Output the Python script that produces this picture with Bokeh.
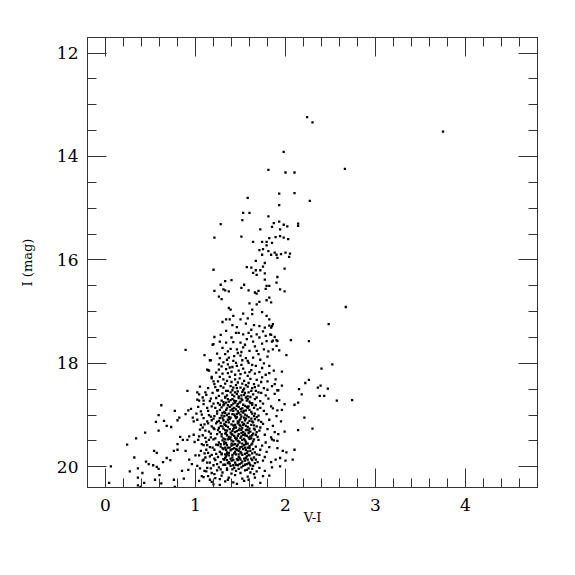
from bokeh.plotting import figure
from bokeh.models import Range1d, LinearAxis, SingleIntervalTicker, CustomJSTickFormatter
from bokeh.embed import file_html
from bokeh.resources import INLINE

# ---- data: (V-I, I) pairs ----
bright = [
    (2.24, 13.24), (2.30, 13.34), (3.75, 13.52), (1.98, 13.91), (2.66, 14.24), (2.00, 14.31),
    (2.10, 14.31), (1.81, 14.26), (1.93, 14.72), (2.10, 14.71), (2.27, 14.86), (1.93, 14.94),
    (1.58, 14.80), (1.53, 15.09), (1.60, 15.09), (1.81, 15.16), (1.28, 15.31), (1.52, 15.23),
    (1.93, 15.26), (1.87, 15.29), (2.14, 15.30), (2.14, 15.34), (1.98, 15.32), (2.02, 15.35),
    (1.85, 15.36), (1.94, 15.41), (1.72, 15.41), (1.21, 15.57), (1.51, 15.55), (1.64, 15.65),
    (1.74, 15.65), (1.79, 15.65), (1.82, 15.58), (1.89, 15.56), (1.94, 15.54), (1.98, 15.57),
    (2.03, 15.60), (1.85, 15.67), (1.79, 15.72), (1.71, 15.81), (1.75, 15.79), (1.81, 15.83),
    (1.88, 15.86), (1.74, 15.90), (1.84, 15.90), (1.90, 15.90), (1.95, 15.89), (2.00, 15.86),
    (2.05, 15.88), (2.04, 15.94), (1.91, 15.96), (1.67, 16.02), (1.77, 16.06), (1.75, 16.13),
    (1.20, 16.19), (1.57, 16.14), (1.62, 16.15), (1.67, 16.20), (1.72, 16.20), (1.64, 16.25),
    (1.68, 16.29), (1.77, 16.26), (1.91, 16.33), (1.99, 16.17), (1.77, 16.38), (1.90, 16.44),
    (1.33, 16.41), (1.40, 16.39), (1.28, 16.48), (1.54, 16.48), (1.51, 16.54), (1.79, 16.50),
    (1.82, 16.50), (1.78, 16.56), (1.21, 16.60), (1.31, 16.57), (1.33, 16.59), (1.37, 16.61),
    (1.59, 16.59), (1.66, 16.63), (1.70, 16.60), (1.68, 16.65), (1.94, 16.57), (1.99, 16.61),
    (1.26, 16.71), (1.29, 16.76), (1.82, 16.73), (1.79, 16.78), (1.71, 16.81), (1.84, 16.82),
    (1.60, 16.84), (1.68, 16.86), (1.37, 16.93), (1.39, 16.96), (1.63, 16.96),
]

middle = [
    (1.42, 17.08), (1.34, 17.15), (1.38, 17.15), (1.50, 17.15), (1.53, 17.04), (1.58, 17.13),
    (1.63, 17.05), (1.74, 17.01), (1.79, 17.08), (1.82, 17.15), (1.41, 17.26), (1.56, 17.23),
    (1.65, 17.26), (1.71, 17.28), (1.77, 17.31), (1.82, 17.27), (1.86, 17.24), (1.34, 17.37),
    (1.45, 17.41), (1.48, 17.41), (1.53, 17.44), (1.59, 17.41), (1.68, 17.44), (1.71, 17.50),
    (1.78, 17.47), (1.83, 17.44), (1.88, 17.49), (1.21, 17.49), (1.20, 17.63), (1.34, 17.60),
    (1.42, 17.59), (1.50, 17.60), (1.55, 17.64), (1.64, 17.58), (1.74, 17.62), (1.79, 17.57),
    (1.85, 17.58), (1.91, 17.57), (1.39, 17.72), (1.46, 17.73), (1.53, 17.69), (1.60, 17.76),
    (1.68, 17.76), (1.76, 17.73), (1.81, 17.77), (1.86, 17.73), (1.10, 17.84), (1.24, 17.81),
    (1.33, 17.82), (1.37, 17.89), (1.43, 17.86), (1.50, 17.85), (1.56, 17.90), (1.64, 17.89),
    (1.72, 17.93), (1.80, 17.87), (1.17, 17.94), (1.31, 17.98), (1.36, 18.02), (1.45, 17.99),
    (1.51, 18.03), (1.59, 17.99), (1.67, 18.05), (1.76, 18.00), (1.82, 18.05), (1.13, 18.12),
    (1.15, 18.14), (1.26, 18.12), (1.34, 18.11), (1.40, 18.16), (1.48, 18.14), (1.55, 18.18),
    (1.62, 18.13), (1.71, 18.17), (1.78, 18.22), (1.87, 18.14), (1.18, 18.29), (1.27, 18.26),
    (1.31, 18.31), (1.38, 18.26), (1.44, 18.31), (1.49, 18.29), (1.54, 18.34), (1.61, 18.30),
    (1.68, 18.32), (1.74, 18.27), (1.80, 18.35), (1.21, 18.40), (1.28, 18.44), (1.33, 18.39),
    (1.39, 18.44), (1.45, 18.42), (1.50, 18.47), (1.56, 18.42), (1.63, 18.48), (1.70, 18.43),
    (1.76, 18.48), (1.85, 18.44), (1.24, 18.52), (1.36, 18.53), (1.41, 18.52), (1.47, 18.54),
    (1.53, 18.52), (1.59, 18.56), (1.67, 18.53), (1.73, 18.57), (1.91, 18.52),
]

middle_extra = [
    (1.30, 17.20), (1.46, 17.30), (1.62, 17.35), (1.75, 17.38), (1.28, 17.45), (1.40, 17.50),
    (1.57, 17.53), (1.66, 17.67), (1.30, 17.70), (1.47, 17.80), (1.70, 17.82), (1.58, 17.95),
    (1.26, 18.02), (1.41, 18.07), (1.63, 18.03), (1.74, 18.09), (1.30, 18.20), (1.44, 18.22),
    (1.58, 18.24), (1.66, 18.20), (1.35, 18.34), (1.47, 18.37), (1.59, 18.38), (1.73, 18.36),
    (1.42, 18.47), (1.54, 18.49), (1.66, 18.46), (1.80, 18.51), (1.88, 18.40), (1.82, 18.19),
    (1.27, 17.90), (1.35, 17.93), (1.42, 17.95), (1.52, 17.94), (1.29, 18.06), (1.38, 18.08),
    (1.46, 18.05), (1.53, 18.10), (1.23, 18.18), (1.36, 18.19), (1.50, 18.21), (1.60, 18.17),
    (1.25, 18.35), (1.40, 18.36), (1.52, 18.39), (1.65, 18.40), (1.31, 18.47), (1.46, 18.48),
    (1.58, 18.45), (1.36, 17.77), (1.51, 17.78), (1.27, 17.58), (1.62, 17.48),
]

red_side = [
    (2.67, 16.91), (2.48, 17.24), (1.85, 17.28), (1.84, 17.31), (1.84, 17.45), (1.86, 17.56),
    (1.90, 17.55), (2.06, 17.55), (2.26, 17.57), (1.90, 17.66), (1.93, 17.75), (2.01, 17.84),
    (2.52, 18.02), (2.40, 18.10), (1.96, 18.16), (1.89, 18.31), (2.26, 18.32), (2.22, 18.38),
    (1.96, 18.43), (2.39, 18.43), (2.36, 18.47), (2.15, 18.50), (2.47, 18.49), (1.92, 18.52),
    (2.18, 18.60), (2.38, 18.63), (2.43, 18.63), (2.57, 18.72), (2.74, 18.71), (2.14, 18.76),
    (2.10, 18.80), (1.96, 18.90), (1.91, 18.91), (2.21, 19.05), (2.30, 19.26), (2.14, 19.29),
    (1.99, 19.32), (1.92, 19.37), (1.91, 19.50), (1.85, 19.47), (1.91, 19.64), (1.97, 19.69),
    (2.01, 19.72), (2.10, 19.67), (1.94, 19.83), (2.00, 19.88), (2.08, 19.86), (1.84, 19.91),
    (1.89, 19.86), (1.85, 20.01), (1.94, 19.99), (1.77, 20.08), (1.82, 20.17), (1.65, 20.14),
    (1.59, 20.25), (1.42, 20.30), (1.36, 20.25),
]

blue_side = [
    (0.91, 18.53), (0.62, 18.81), (0.59, 19.00), (0.56, 19.13), (0.65, 19.11), (0.68, 19.21),
    (0.73, 19.23), (0.59, 19.30), (0.77, 18.92), (0.82, 19.05), (0.80, 19.10), (0.44, 19.34),
    (0.34, 19.45), (0.24, 19.57), (0.83, 19.42), (0.86, 19.48), (0.80, 19.56), (0.76, 19.69),
    (0.80, 19.67), (0.54, 19.69), (0.57, 19.73), (0.32, 19.82), (0.68, 19.83), (0.72, 19.87),
    (0.64, 19.91), (0.45, 19.90), (0.48, 19.95), (0.53, 19.97), (0.57, 20.00), (0.59, 20.04),
    (0.36, 20.03), (0.41, 20.12), (0.27, 20.09), (0.06, 19.99), (0.04, 20.31), (0.36, 20.36),
    (0.43, 20.31), (0.55, 20.25), (0.60, 20.16), (0.62, 20.32), (0.76, 20.25), (0.85, 20.08),
    (0.87, 20.23), (0.92, 20.06), (0.93, 19.86), (0.96, 19.95), (1.04, 20.27), (0.89, 19.69),
    (0.91, 19.48), (0.93, 19.41), (0.98, 19.38), (0.99, 19.52), (0.89, 18.98), (0.92, 18.91),
    (0.97, 19.05), (0.98, 19.12), (1.01, 18.97), (1.03, 18.84), (1.04, 18.72), (1.11, 18.56),
    (1.09, 18.72), (1.04, 18.60), (1.06, 19.19), (1.11, 19.30), (1.04, 19.41), (1.07, 19.56),
    (1.12, 19.67), (1.04, 19.78), (1.09, 19.86), (1.05, 20.03), (1.12, 20.09), (1.07, 20.18),
    (1.16, 20.25), (1.20, 20.34), (0.77, 20.39), (0.39, 20.39), (0.36, 20.21), (0.89, 17.74),
    (1.02, 18.56), (1.16, 17.94), (1.14, 18.13), (1.18, 18.26), (1.20, 18.35), (1.19, 17.64),
]

wing_left = [
    (1.05, 18.45), (1.14, 18.48), (1.22, 18.46), (1.08, 18.66), (1.20, 18.78), (1.13, 18.86),
    (1.24, 18.93), (1.06, 18.93), (1.15, 19.00), (1.21, 19.02), (1.09, 19.06), (1.18, 19.10),
    (1.24, 19.13), (1.14, 19.16), (1.20, 19.25), (1.08, 19.24), (1.25, 19.29), (1.17, 19.36),
    (1.11, 19.44), (1.22, 19.45), (1.15, 19.48), (1.25, 19.58), (1.13, 19.58), (1.19, 19.63),
    (1.10, 19.74), (1.23, 19.75), (1.16, 19.80), (1.21, 19.84), (1.13, 19.92), (1.24, 19.95),
    (1.17, 20.03), (1.28, 20.05), (1.21, 20.14), (1.27, 20.24), (1.09, 20.20), (1.25, 18.52),
    (1.17, 18.68), (1.27, 18.80),
]

clump = [
    (1.12, 18.61), (1.19, 18.57), (1.26, 18.63), (1.30, 18.58), (1.35, 18.62), (1.39, 18.56),
    (1.43, 18.64), (1.46, 18.59), (1.51, 18.62), (1.55, 18.57), (1.58, 18.64), (1.64, 18.60),
    (1.70, 18.56), (1.78, 18.62), (1.88, 18.59),
    (1.02, 18.70), (1.16, 18.73), (1.23, 18.67), (1.29, 18.72), (1.33, 18.66), (1.37, 18.74),
    (1.41, 18.69), (1.45, 18.73), (1.48, 18.67), (1.52, 18.71), (1.56, 18.66), (1.60, 18.74),
    (1.66, 18.69), (1.72, 18.73), (1.81, 18.68), (1.93, 18.71),
    (1.09, 18.79), (1.18, 18.83), (1.25, 18.77), (1.31, 18.81), (1.34, 18.76), (1.38, 18.84),
    (1.42, 18.78), (1.46, 18.82), (1.49, 18.76), (1.53, 18.80), (1.57, 18.84), (1.61, 18.77),
    (1.67, 18.81), (1.75, 18.78), (1.84, 18.83), (1.99, 18.79),
    (0.95, 18.88), (1.14, 18.92), (1.22, 18.86), (1.27, 18.90), (1.32, 18.94), (1.35, 18.87),
    (1.39, 18.91), (1.43, 18.86), (1.47, 18.93), (1.50, 18.88), (1.54, 18.92), (1.58, 18.86),
    (1.62, 18.94), (1.69, 18.89), (1.76, 18.92), (1.86, 18.87),
    (1.07, 18.99), (1.17, 19.03), (1.24, 18.97), (1.29, 19.01), (1.33, 18.96), (1.37, 19.04),
    (1.41, 18.98), (1.44, 19.02), (1.48, 18.96), (1.51, 19.03), (1.55, 18.99), (1.59, 19.04),
    (1.63, 18.97), (1.70, 19.01), (1.79, 18.98), (1.90, 19.02),
    (1.02, 19.09), (1.13, 19.12), (1.20, 19.07), (1.26, 19.11), (1.30, 19.06), (1.34, 19.13),
    (1.38, 19.08), (1.42, 19.12), (1.45, 19.06), (1.49, 19.10), (1.52, 19.14), (1.56, 19.07),
    (1.60, 19.11), (1.66, 19.08), (1.73, 19.13), (1.82, 19.09), (1.95, 19.12),
    (1.10, 19.18), (1.18, 19.22), (1.23, 19.16), (1.28, 19.21), (1.32, 19.17), (1.36, 19.23),
    (1.40, 19.18), (1.43, 19.24), (1.47, 19.16), (1.50, 19.21), (1.54, 19.17), (1.58, 19.23),
    (1.62, 19.19), (1.68, 19.22), (1.75, 19.17), (1.86, 19.21),
    (1.05, 19.28), (1.15, 19.32), (1.21, 19.27), (1.27, 19.33), (1.31, 19.26), (1.35, 19.30),
    (1.39, 19.34), (1.42, 19.27), (1.46, 19.31), (1.49, 19.26), (1.53, 19.33), (1.57, 19.28),
    (1.61, 19.32), (1.65, 19.26), (1.71, 19.30), (1.80, 19.27), (1.88, 19.33),
    (1.08, 19.39), (1.17, 19.43), (1.24, 19.37), (1.29, 19.41), (1.33, 19.36), (1.37, 19.42),
    (1.41, 19.38), (1.44, 19.44), (1.48, 19.37), (1.51, 19.41), (1.55, 19.36), (1.59, 19.43),
    (1.63, 19.39), (1.69, 19.42), (1.77, 19.38), (1.84, 19.43),
    (1.03, 19.48), (1.12, 19.52), (1.20, 19.47), (1.26, 19.53), (1.30, 19.49), (1.34, 19.54),
    (1.38, 19.46), (1.42, 19.51), (1.45, 19.47), (1.49, 19.53), (1.52, 19.48), (1.56, 19.52),
    (1.60, 19.46), (1.64, 19.51), (1.70, 19.48), (1.78, 19.53), (1.87, 19.49),
    (1.09, 19.58), (1.16, 19.62), (1.23, 19.57), (1.28, 19.61), (1.32, 19.56), (1.36, 19.63),
    (1.40, 19.59), (1.43, 19.64), (1.47, 19.57), (1.50, 19.62), (1.54, 19.58), (1.58, 19.63),
    (1.62, 19.57), (1.67, 19.61), (1.74, 19.59), (1.82, 19.62),
    (1.06, 19.69), (1.14, 19.73), (1.21, 19.67), (1.27, 19.71), (1.31, 19.66), (1.35, 19.72),
    (1.39, 19.68), (1.43, 19.74), (1.46, 19.67), (1.50, 19.71), (1.53, 19.66), (1.57, 19.73),
    (1.61, 19.69), (1.66, 19.72), (1.72, 19.67), (1.79, 19.71),
    (1.00, 19.78), (1.11, 19.82), (1.18, 19.77), (1.25, 19.81), (1.29, 19.76), (1.33, 19.83),
    (1.37, 19.78), (1.41, 19.82), (1.45, 19.76), (1.48, 19.81), (1.52, 19.77), (1.56, 19.83),
    (1.60, 19.78), (1.65, 19.82), (1.71, 19.77), (1.77, 19.81),
    (1.08, 19.88), (1.16, 19.92), (1.22, 19.87), (1.28, 19.91), (1.32, 19.86), (1.36, 19.93),
    (1.40, 19.88), (1.44, 19.92), (1.47, 19.87), (1.51, 19.93), (1.55, 19.88), (1.59, 19.92),
    (1.63, 19.87), (1.69, 19.91), (1.75, 19.88),
    (1.02, 19.98), (1.13, 20.02), (1.20, 19.97), (1.26, 20.01), (1.31, 19.96), (1.35, 20.03),
    (1.39, 19.98), (1.43, 20.02), (1.47, 19.97), (1.51, 20.01), (1.55, 19.96), (1.59, 20.03),
    (1.64, 19.98), (1.71, 20.02),
    (1.10, 20.08), (1.18, 20.12), (1.24, 20.07), (1.30, 20.11), (1.35, 20.06), (1.40, 20.13),
    (1.45, 20.08), (1.50, 20.12), (1.55, 20.07), (1.61, 20.11), (1.68, 20.09),
    (1.14, 20.18), (1.22, 20.22), (1.29, 20.17), (1.37, 20.21), (1.44, 20.16), (1.52, 20.23),
    (1.58, 20.19), (1.66, 20.21), (1.75, 20.18),
    (1.18, 20.29), (1.27, 20.35), (1.33, 20.28), (1.46, 20.33), (1.54, 20.27), (1.63, 20.36),
    (1.72, 20.31),
]

core = [
    (1.33, 18.65), (1.41, 18.61), (1.48, 18.64), (1.54, 18.61), (1.61, 18.65),
    (1.31, 18.75), (1.39, 18.71), (1.44, 18.76), (1.50, 18.74), (1.57, 18.72), (1.63, 18.77),
    (1.29, 18.85), (1.36, 18.81), (1.41, 18.88), (1.48, 18.84), (1.52, 18.87), (1.59, 18.83),
    (1.65, 18.86), (1.30, 18.96), (1.37, 18.97), (1.42, 18.92), (1.46, 18.98), (1.53, 18.95),
    (1.56, 18.91), (1.66, 18.97), (1.27, 19.06), (1.32, 19.02), (1.39, 19.05), (1.46, 19.04),
    (1.50, 19.07), (1.54, 19.05), (1.62, 19.07), (1.68, 19.04), (1.28, 19.15), (1.33, 19.19),
    (1.37, 19.14), (1.44, 19.19), (1.48, 19.14), (1.53, 19.19), (1.58, 19.15), (1.64, 19.14),
    (1.26, 19.25), (1.30, 19.22), (1.38, 19.27), (1.45, 19.24), (1.48, 19.29), (1.52, 19.25),
    (1.56, 19.29), (1.60, 19.26), (1.66, 19.28), (1.29, 19.37), (1.34, 19.34), (1.40, 19.37),
    (1.44, 19.33), (1.47, 19.40), (1.51, 19.35), (1.55, 19.39), (1.59, 19.35), (1.64, 19.36),
    (1.31, 19.45), (1.36, 19.47), (1.39, 19.43), (1.46, 19.45), (1.50, 19.44), (1.54, 19.46),
    (1.57, 19.40), (1.62, 19.45), (1.28, 19.56), (1.32, 19.52), (1.40, 19.55), (1.44, 19.56),
    (1.48, 19.51), (1.52, 19.55), (1.58, 19.55), (1.63, 19.55), (1.30, 19.64), (1.34, 19.67),
    (1.38, 19.63), (1.45, 19.66), (1.49, 19.65), (1.52, 19.61), (1.56, 19.67), (1.60, 19.64),
    (1.29, 19.74), (1.33, 19.76), (1.37, 19.73), (1.41, 19.77), (1.48, 19.76), (1.55, 19.75),
    (1.59, 19.77), (1.63, 19.74), (1.31, 19.85), (1.35, 19.87), (1.39, 19.84), (1.46, 19.85),
    (1.50, 19.86), (1.54, 19.84), (1.58, 19.86), (1.67, 19.86), (1.33, 19.96), (1.38, 19.94),
    (1.42, 19.97), (1.49, 19.95), (1.53, 19.98), (1.57, 19.95), (1.61, 19.97),
]

core_extra = [
    (1.34, 18.53), (1.44, 18.56), (1.52, 18.55), (1.62, 18.53), (1.36, 18.69), (1.43, 18.72),
    (1.51, 18.68), (1.58, 18.69), (1.68, 18.66), (1.32, 18.79), (1.40, 18.81), (1.47, 18.79),
    (1.55, 18.82), (1.63, 18.80), (1.34, 18.90), (1.45, 18.89), (1.51, 18.93), (1.60, 18.90),
    (1.72, 18.86), (1.35, 19.00), (1.43, 18.99), (1.50, 18.99), (1.57, 19.01), (1.65, 19.02),
    (1.31, 19.10), (1.36, 19.09), (1.47, 19.12), (1.55, 19.10), (1.63, 19.12), (1.70, 19.10),
    (1.34, 19.21), (1.42, 19.20), (1.49, 19.19), (1.56, 19.21), (1.65, 19.20), (1.72, 19.24),
    (1.33, 19.29), (1.41, 19.31), (1.51, 19.29), (1.59, 19.30), (1.68, 19.33), (1.35, 19.39),
    (1.43, 19.40), (1.53, 19.38), (1.61, 19.41), (1.67, 19.38), (1.33, 19.47), (1.40, 19.49),
    (1.47, 19.50), (1.55, 19.49), (1.65, 19.47), (1.35, 19.58), (1.42, 19.57), (1.46, 19.60),
    (1.56, 19.56), (1.60, 19.60), (1.33, 19.63), (1.41, 19.66), (1.48, 19.69), (1.55, 19.63),
    (1.64, 19.66), (1.35, 19.76), (1.44, 19.71), (1.51, 19.74), (1.58, 19.70), (1.68, 19.76),
    (1.34, 19.80), (1.42, 19.87), (1.49, 19.83), (1.57, 19.80), (1.62, 19.84), (1.37, 19.91),
    (1.45, 19.96), (1.52, 19.90), (1.60, 19.94), (1.66, 19.93), (1.41, 20.05), (1.48, 20.04),
    (1.57, 20.06), (1.63, 20.04),
]

x_tick_interval = 1
y_tick_interval = 2

pts = bright + middle + middle_extra + red_side + blue_side + wing_left + clump + core + core_extra
vi = [a for a, b in pts]
imag = [b for a, b in pts]

FONT = "DejaVu Serif"
LINE = "#333333"

p = figure(frame_width=450, frame_height=450,
           x_range=Range1d(-0.2, 4.8), y_range=Range1d(20.4, 11.7),
           output_backend="svg", toolbar_location=None,
           min_border_left=87, min_border_top=37, min_border_right=20, min_border_bottom=60)
p.xgrid.visible = False
p.ygrid.visible = False
p.outline_line_color = LINE
p.background_fill_color = "white"
p.border_fill_color = "white"

p.scatter(vi, imag, marker="square", size=2.3, color="black", line_width=0)

bottom = p.xaxis[0]
left = p.yaxis[0]
bottom.axis_label = "V-I"
left.axis_label = "I (mag)"

top = LinearAxis()
right = LinearAxis()
p.add_layout(top, "above")
p.add_layout(right, "right")

for ax in [bottom, top]:
    ax.ticker = SingleIntervalTicker(interval=x_tick_interval, num_minor_ticks=5)
for ax in [left, right]:
    ax.ticker = SingleIntervalTicker(interval=y_tick_interval, num_minor_ticks=4)

for ax in [bottom, left, top, right]:
    ax.axis_line_color = LINE
    ax.major_tick_line_color = LINE
    ax.minor_tick_line_color = LINE
    ax.major_tick_in = 19
    ax.major_tick_out = 0
    ax.minor_tick_in = 9
    ax.minor_tick_out = 0
    ax.major_label_text_font = FONT
    ax.major_label_text_font_size = "17px"
    ax.major_label_text_color = "black"
    ax.major_label_standoff = 9
    ax.axis_label_text_font = FONT
    ax.axis_label_text_font_style = "normal"
    ax.axis_label_text_font_size = "13px"
    ax.axis_label_text_color = "black"

for ax in [top, right]:
    ax.formatter = CustomJSTickFormatter(code="return '';")
    ax.major_label_standoff = 0

left.axis_label_standoff = 19
bottom.major_label_standoff = 11
bottom.axis_label_standoff = -4

open("out.html", "w").write(file_html(p, INLINE))
